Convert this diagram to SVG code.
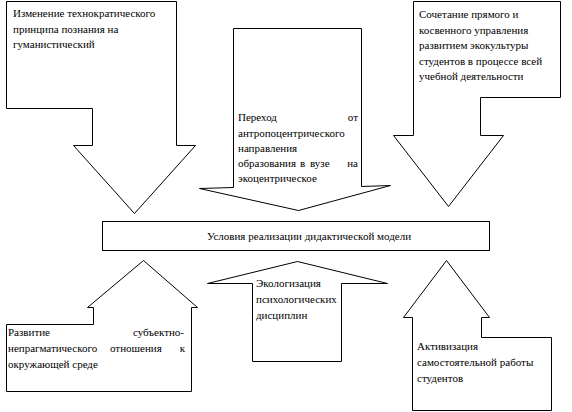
<svg xmlns="http://www.w3.org/2000/svg" width="572" height="412" viewBox="0 0 572 412">
<style>
.s{fill:#fff;stroke:#000;stroke-width:1}
.n{font-family:'Liberation Serif','Times New Roman',serif;font-size:11px;fill:#000}
</style>
<rect width="572" height="412" fill="#fff"/>
<g id="connectors"></g>
<g id="node-top-left" class="n">
<polygon class="s" points="6.5,1.5 176.5,1.5 176.5,145.5 195.5,145.5 134.5,213.5 73.5,145.5 92.5,145.5 92.5,108.5 6.5,108.5"/>
<text x="13" y="17">Изменение технократического</text>
<text x="13" y="33">принципа познания на</text>
<text x="13" y="48">гуманистический</text>
</g>
<g id="node-top-middle" class="n">
<polygon class="s" points="233.5,28.5 361.5,28.5 361.5,186.5 390.5,185.5 298.5,210.5 199.5,188.5 233.5,187.5"/>
<text x="238" y="121">Переход</text>
<text x="358" y="121" text-anchor="end">от</text>
<text x="238" y="137">антропоцентрического</text>
<text x="238" y="152">направления</text>
<text x="238" y="167">образования</text>
<text x="300" y="167">в</text>
<text x="310" y="167">вузе</text>
<text x="358" y="167" text-anchor="end">на</text>
<text x="238" y="182">экоцентрическое</text>
</g>
<g id="node-top-right" class="n">
<polygon class="s" points="413.5,1.5 560.5,1.5 560.5,97.5 480.5,97.5 480.5,135.5 503.5,135.5 448.5,206.5 393.5,135.5 413.5,135.5"/>
<text x="419" y="18">Сочетание прямого и</text>
<text x="419" y="34">косвенного управления</text>
<text x="419" y="49">развитием экокультуры</text>
<text x="419" y="65">студентов в процессе всей</text>
<text x="419" y="80">учебной деятельности</text>
</g>
<g id="node-center" class="n">
<rect class="s" x="102.5" y="221.5" width="387" height="29"/>
<text x="309" y="240" text-anchor="middle">Условия реализации дидактической модели</text>
</g>
<g id="node-bottom-left" class="n">
<polygon class="s" points="6.5,324.5 93.5,324.5 93.5,307.5 87.5,307.5 143.5,260.5 197.5,307.5 191.5,307.5 191.5,391.5 6.5,391.5"/>
<text x="8" y="336">Развитие</text>
<text x="184" y="336" text-anchor="end">субъектно-</text>
<text x="8" y="352">непрагматического</text>
<text x="110" y="352">отношения</text>
<text x="185" y="352" text-anchor="end">к</text>
<text x="8" y="368">окружающей среде</text>
</g>
<g id="node-bottom-center" class="n">
<polygon class="s" points="252.5,361.5 252.5,283.5 207.5,283.5 297.5,261.5 387.5,283.5 341.5,283.5 341.5,361.5"/>
<text x="256" y="287">Экологизация</text>
<text x="256" y="303">психологических</text>
<text x="256" y="319">дисциплин</text>
</g>
<g id="node-bottom-right" class="n">
<polygon class="s" points="412.5,410.5 412.5,317.5 403.5,317.5 446.5,260.5 489.5,317.5 481.5,317.5 481.5,337.5 551.5,337.5 551.5,410.5"/>
<text x="417" y="350">Активизация</text>
<text x="417" y="366">самостоятельной работы</text>
<text x="417" y="382">студентов</text>
</g>
</svg>
